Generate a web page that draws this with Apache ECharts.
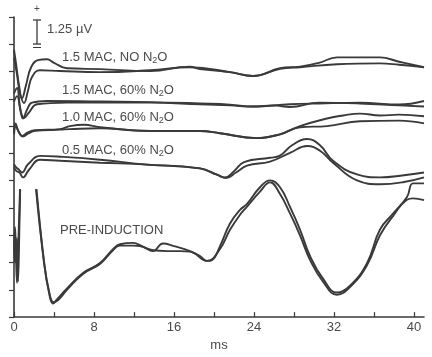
<!DOCTYPE html>
<html>
<head>
<meta charset="utf-8">
<script src="https://cdn.jsdelivr.net/npm/echarts@6/dist/echarts.min.js"></script>
<style>html,body{margin:0;padding:0;background:#fff}#c{width:432px;height:357px}</style>
</head>
<body>
<div id="c"></div>
<script>
// x tick labels (ms)
const xTicks = [0, 8, 16, 24, 32, 40];
// trace labels
const traceLabels = ['1.5 MAC, NO N2O', '1.5 MAC, 60% N2O', '1.0 MAC, 60% N2O', '0.5 MAC, 60% N2O', 'PRE-INDUCTION'];

// Group 1: 1.5 MAC, NO N2O
const t1a = [0, 0.2, 0.5, 0.8, 1.2, 1.7, 2.4, 3.3, 4.0, 5.3, 8.6, 13.6, 17.6, 18.6, 21.6, 23.9, 26.6, 28.6, 30.5, 32.3, 36.6, 38.5, 41.0];
const v1a = [9.8, 9.3, 8.5, 8.02, 8.5, 9.15, 9.42, 9.45, 9.32, 9.12, 9.09, 9.02, 9.18, 9.09, 8.98, 8.84, 9.12, 9.18, 9.32, 9.52, 9.52, 9.36, 9.16];
const t1b = [0, 0.3, 0.6, 1.0, 1.4, 1.8, 2.6, 4.6, 8.6, 13.6, 17.6, 21.6, 23.9, 26.6, 28.6, 32.3, 36.6, 38.5, 41.0];
const v1b = [9.5, 8.9, 8.2, 7.85, 8.3, 8.8, 9.05, 9.02, 8.98, 9.05, 9.16, 8.98, 8.84, 9.1, 9.16, 9.27, 9.3, 9.25, 9.16];

// Group 2: 1.5 MAC, 60% N2O
const t2a = [0, 0.3, 0.6, 0.9, 1.3, 1.8, 3.3, 8.6, 13.6, 18.6, 21.6, 23.9, 27.6, 30.5, 34.6, 38.5, 41.0];
const v2a = [8.2, 8.4, 7.7, 7.28, 7.6, 7.86, 7.92, 7.9, 7.88, 7.83, 7.79, 7.72, 7.8, 7.83, 7.86, 7.79, 7.92];
const t2b = [0, 0.3, 0.7, 1.0, 1.5, 2.3, 5.3, 8.6, 13.6, 18.6, 21.6, 23.9, 26.0, 27.6, 30.5, 34.6, 38.5, 41.0];
const v2b = [7.9, 8.1, 7.5, 7.3, 7.5, 7.8, 7.86, 7.86, 7.86, 7.8, 7.76, 7.72, 7.76, 7.7, 7.86, 7.83, 7.76, 7.72];

// Group 3: 1.0 MAC, 60% N2O
const t3a = [0, 0.15, 0.4, 0.8, 1.3, 2.1, 4.6, 5.6, 7.0, 8.6, 13.6, 18.6, 20.6, 24.3, 26.6, 28.6, 31.3, 32.9, 34.6, 36.6, 38.5, 41.0];
const v3a = [6.8, 7.1, 6.85, 6.64, 6.75, 6.85, 6.89, 7.0, 7.05, 6.96, 6.82, 6.82, 6.74, 6.56, 6.7, 7.0, 7.28, 7.39, 7.46, 7.39, 7.42, 7.36];
const t3b = [0, 0.2, 0.45, 0.9, 1.4, 2.1, 4.6, 5.6, 8.6, 13.6, 18.6, 20.6, 24.3, 26.6, 28.6, 31.3, 34.6, 38.5, 41.0];
const v3b = [6.7, 7.0, 6.8, 6.62, 6.72, 6.83, 6.87, 6.89, 6.92, 6.82, 6.82, 6.74, 6.56, 6.7, 6.96, 7.0, 7.18, 7.2, 7.1];

// Group 4: 0.5 MAC, 60% N2O
const t4a = [0, 0.2, 0.5, 0.8, 1.4, 2.6, 4.6, 8.6, 13.3, 18.6, 20.3, 21.1, 22.0, 23.0, 25.6, 26.6, 27.8, 29.3, 30.6, 31.9, 34.3, 36.6, 39.0, 41.0];
const v4a = [5.6, 5.5, 5.4, 5.3, 5.6, 5.91, 5.88, 5.77, 5.59, 5.45, 5.22, 5.12, 5.35, 5.68, 5.84, 5.92, 6.3, 6.53, 6.3, 5.73, 5.23, 5.12, 5.2, 5.3];
const t4b = [0, 0.25, 0.55, 0.9, 1.5, 2.6, 4.6, 8.6, 13.3, 18.6, 20.3, 21.2, 22.2, 23.3, 25.6, 27.6, 29.3, 30.6, 31.9, 34.3, 36.6, 39.0, 41.0];
const v4b = [5.5, 5.35, 5.3, 5.12, 5.4, 5.77, 5.73, 5.66, 5.59, 5.45, 5.22, 5.1, 5.3, 5.55, 5.7, 6.02, 6.27, 6.1, 5.66, 5.01, 4.87, 4.95, 5.12];

// Group 5: PRE-INDUCTION ('-' = trace off scale)
const t5a = [0, 0.1, 0.2, 0.3, 0.45, 0.6, 1.4, 2.2, 3.0, 3.5, 3.9, 4.3, 5.3, 6.9, 8.6, 9.9, 10.6, 11.9, 12.9, 13.9, 14.9, 16.0, 17.6, 18.6, 19.3, 19.8, 20.6, 21.6, 22.6, 23.3, 24.6, 25.6, 26.6, 27.6, 28.6, 29.6, 30.9, 32.3, 33.6, 35.3, 36.6, 37.9, 39.3, 39.9, 41.0];
const v5a = [2.6, 3.3, 2.2, 1.26, 2.9, 4.69, '-', 4.69, 2.0, 0.9, 0.5, 0.65, 1.05, 1.62, 1.98, 2.49, 2.67, 2.72, 2.58, 2.42, 2.7, 2.6, 2.42, 2.24, 2.06, 2.09, 2.6, 3.43, 3.93, 4.15, 4.76, 5.01, 4.76, 4.04, 3.21, 2.24, 1.41, 0.9, 1.15, 1.98, 3.21, 3.79, 4.4, 4.9, 4.9];
const t5b = [0, 0.1, 0.3, 0.4, 0.55, 0.62, 1.4, 2.25, 3.0, 3.5, 3.95, 4.4, 5.3, 6.9, 8.6, 9.9, 10.6, 11.9, 12.6, 13.9, 15.3, 16.6, 17.6, 19.3, 20.6, 21.6, 22.6, 23.3, 24.6, 25.6, 26.6, 27.6, 28.6, 29.6, 30.9, 32.3, 33.6, 35.3, 36.6, 37.9, 39.3, 39.9, 41.0];
const v5b = [2.6, 2.0, 2.9, 1.3, 3.5, 4.69, '-', 4.69, 2.05, 0.95, 0.55, 0.62, 1.0, 1.58, 1.95, 2.45, 2.62, 2.62, 2.6, 2.45, 2.42, 2.42, 2.4, 2.06, 2.5, 3.2, 3.75, 4.05, 4.6, 4.94, 4.51, 3.8, 3.0, 2.1, 1.3, 0.82, 1.1, 1.9, 3.0, 3.7, 4.3, 4.35, 4.29];

const traces = [[t1a, v1a], [t1b, v1b], [t2a, v2a], [t2b, v2b], [t3a, v3a], [t3b, v3b], [t4a, v4a], [t4b, v4b], [t5a, v5a], [t5b, v5b]];

const LINE = '#3a3a3a';
const TXT = '#4a4a4a';
const FONT = '"Liberation Sans", Arial, sans-serif';
const FS = 13;

function richLabel(s) {
  const parts = s.split('N2O');
  if (parts.length === 1) return '{a|' + s + '}';
  return '{a|' + parts[0] + 'N}{s|2}{a|O' + parts[1] + '}';
}
const labelPos = [[62, 57], [62, 90], [62, 117], [62, 150], [60, 232]];

const graphics = traceLabels.map((s, i) => ({
  type: 'text', left: labelPos[i][0], top: labelPos[i][1] - 8,
  style: {
    text: richLabel(s),
    rich: {
      a: { fontSize: FS, fill: TXT, fontFamily: FONT, lineHeight: 15 },
      s: { fontSize: 9, fill: TXT, fontFamily: FONT, lineHeight: 15, padding: [7, 0, 0, 0] }
    }
  }
}));
// scale bar
graphics.push(
  { type: 'line', shape: { x1: 37, y1: 20, x2: 37, y2: 44 }, style: { stroke: LINE, lineWidth: 1.3 } },
  { type: 'line', shape: { x1: 33, y1: 20, x2: 41, y2: 20 }, style: { stroke: LINE, lineWidth: 1.3 } },
  { type: 'line', shape: { x1: 33, y1: 44, x2: 41, y2: 44 }, style: { stroke: LINE, lineWidth: 1.3 } },
  { type: 'line', shape: { x1: 33, y1: 47.5, x2: 41, y2: 47.5 }, style: { stroke: LINE, lineWidth: 1 } },
  { type: 'text', left: 34, top: 4, style: { text: '+', fontSize: 10, fill: TXT, fontFamily: FONT } },
  { type: 'text', left: 47, top: 23, style: { text: '1.25 \u00b5V', fontSize: FS, fill: TXT, fontFamily: FONT } }
);

const chart = echarts.init(document.getElementById('c'), null, { renderer: 'canvas' });
chart.setOption({
  animation: false,
  backgroundColor: '#fff',
  grid: { left: 14, right: 8, top: 17, bottom: 35 },
  xAxis: {
    type: 'value', min: 0, max: 41, interval: 4,
    name: 'ms', nameLocation: 'middle', nameGap: 20,
    nameTextStyle: { fontSize: FS, color: TXT, fontFamily: FONT },
    axisLine: { onZero: false, lineStyle: { color: LINE, width: 1.6 } },
    axisTick: { inside: true, length: 5, lineStyle: { color: LINE, width: 1.2 } },
    axisLabel: {
      margin: 4, fontSize: FS, color: TXT, fontFamily: FONT, showMaxLabel: false,
      formatter: v => xTicks.indexOf(v) >= 0 ? String(v) : ''
    },
    splitLine: { show: false }
  },
  yAxis: {
    type: 'value', min: 0, max: 11, interval: 1,
    axisLine: { show: true, lineStyle: { color: LINE, width: 1.6 } },
    axisTick: { show: true, inside: false, length: 5, lineStyle: { color: LINE, width: 1.2 } },
    axisLabel: { show: false },
    splitLine: { show: false }
  },
  graphic: graphics,
  series: traces.map(([t, v]) => ({
    type: 'line',
    data: t.map((x, i) => [x, v[i]]),
    showSymbol: false, symbol: 'none',
    smooth: 0.45,
    connectNulls: false,
    lineStyle: { color: LINE, width: 1.9 },
    clip: false
  }))
});
</script>
</body>
</html>
